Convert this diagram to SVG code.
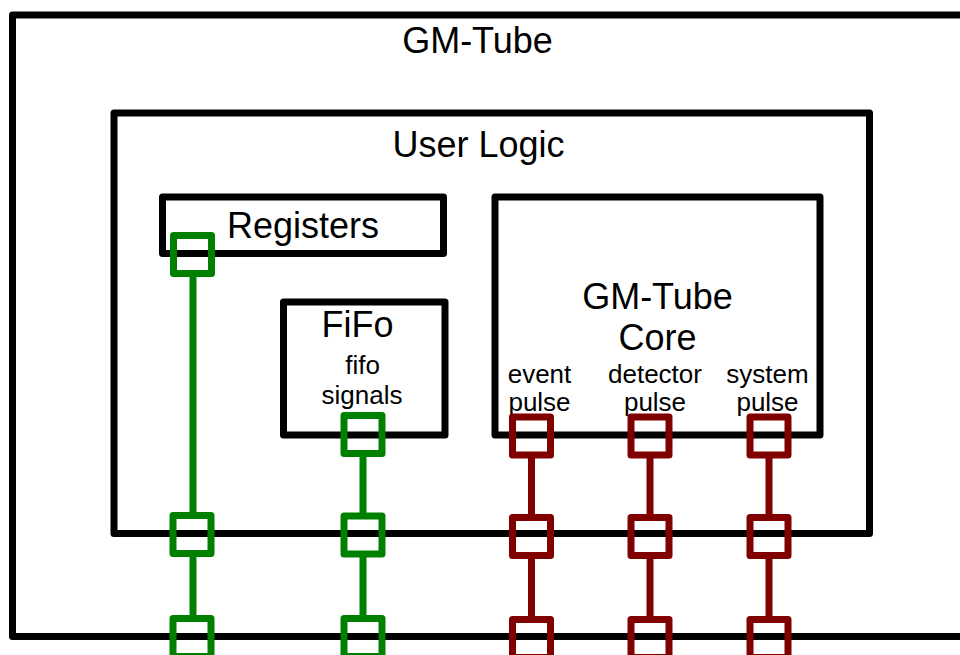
<svg xmlns="http://www.w3.org/2000/svg" width="960" height="655" viewBox="0 0 960 655">
  <style>
    .box { fill: none; stroke: #000; stroke-width: 7; stroke-linejoin: round; }
    .big { font-family: "Liberation Sans", Arial, sans-serif; font-size: 36px; fill: #000; text-anchor: middle; }
    .small { font-family: "Liberation Sans", Arial, sans-serif; font-size: 26px; fill: #000; text-anchor: middle; }
    .g { stroke: #008000; }
    .r { stroke: #800000; }
    .wire { stroke-width: 7; fill: none; }
    .port { fill: none; stroke-width: 7; stroke-linejoin: round; }
  </style>
  <rect width="960" height="655" fill="#fff"/>
  <g id="gm-tube">
    <rect class="box" x="12.5" y="15" width="960" height="621.5"/>
    <text class="big" x="477.5" y="53">GM-Tube</text>
  </g>
  <g id="user-logic">
    <rect class="box" x="114" y="113" width="755.5" height="420.5"/>
    <text class="big" x="478.5" y="157">User Logic</text>
  </g>
  <g id="registers">
    <rect class="box" x="162.5" y="197" width="281" height="56.5"/>
    <text class="big" x="303" y="238">Registers</text>
  </g>
  <g id="fifo">
    <rect class="box" x="283.5" y="302" width="161.5" height="133"/>
    <text class="big" x="357.5" y="337">FiFo</text>
    <text class="small" x="362.5" y="374">fifo</text>
    <text class="small" x="362" y="404">signals</text>
  </g>
  <g id="gm-tube-core">
    <rect class="box" x="495" y="197" width="325" height="238"/>
    <text class="big" x="657.5" y="309">GM-Tube</text>
    <text class="big" x="657.5" y="350">Core</text>
    <text class="small" x="539.5" y="383">event</text>
    <text class="small" x="539.5" y="411">pulse</text>
    <text class="small" x="655" y="383">detector</text>
    <text class="small" x="655" y="411">pulse</text>
    <text class="small" x="767.5" y="383">system</text>
    <text class="small" x="767.5" y="411">pulse</text>
  </g>
  <g id="connectors">
    <!-- green: registers -->
    <line class="wire g" x1="193" y1="277" x2="193" y2="512"/>
    <line class="wire g" x1="193" y1="557" x2="193" y2="615"/>
    <rect class="port g" x="173.5" y="235.5" width="38" height="38"/>
    <rect class="port g" x="173" y="515.5" width="38" height="38"/>
    <rect class="port g" x="173" y="618.5" width="38" height="38"/>
    <!-- green: fifo -->
    <line class="wire g" x1="363" y1="457" x2="363" y2="513"/>
    <line class="wire g" x1="363" y1="557" x2="363" y2="615"/>
    <rect class="port g" x="344" y="415.5" width="38" height="38"/>
    <rect class="port g" x="344" y="516" width="38" height="38"/>
    <rect class="port g" x="344" y="618.5" width="38" height="38"/>
    <!-- red: event pulse -->
    <line class="wire r" x1="531.5" y1="457" x2="531.5" y2="516"/>
    <line class="wire r" x1="531.5" y1="557" x2="531.5" y2="616"/>
    <rect class="port r" x="512.5" y="417" width="38" height="38"/>
    <rect class="port r" x="512.5" y="517.5" width="38" height="38"/>
    <rect class="port r" x="512.5" y="619.5" width="38" height="38"/>
    <!-- red: detector pulse -->
    <line class="wire r" x1="650" y1="457" x2="650" y2="516"/>
    <line class="wire r" x1="650" y1="557" x2="650" y2="616"/>
    <rect class="port r" x="631" y="417" width="38" height="38"/>
    <rect class="port r" x="631" y="517.5" width="38" height="38"/>
    <rect class="port r" x="631" y="619.5" width="38" height="38"/>
    <!-- red: system pulse -->
    <line class="wire r" x1="769" y1="457" x2="769" y2="516"/>
    <line class="wire r" x1="769" y1="557" x2="769" y2="616"/>
    <rect class="port r" x="750" y="417" width="38" height="38"/>
    <rect class="port r" x="750" y="517.5" width="38" height="38"/>
    <rect class="port r" x="750" y="619.5" width="38" height="38"/>
  </g>
</svg>
